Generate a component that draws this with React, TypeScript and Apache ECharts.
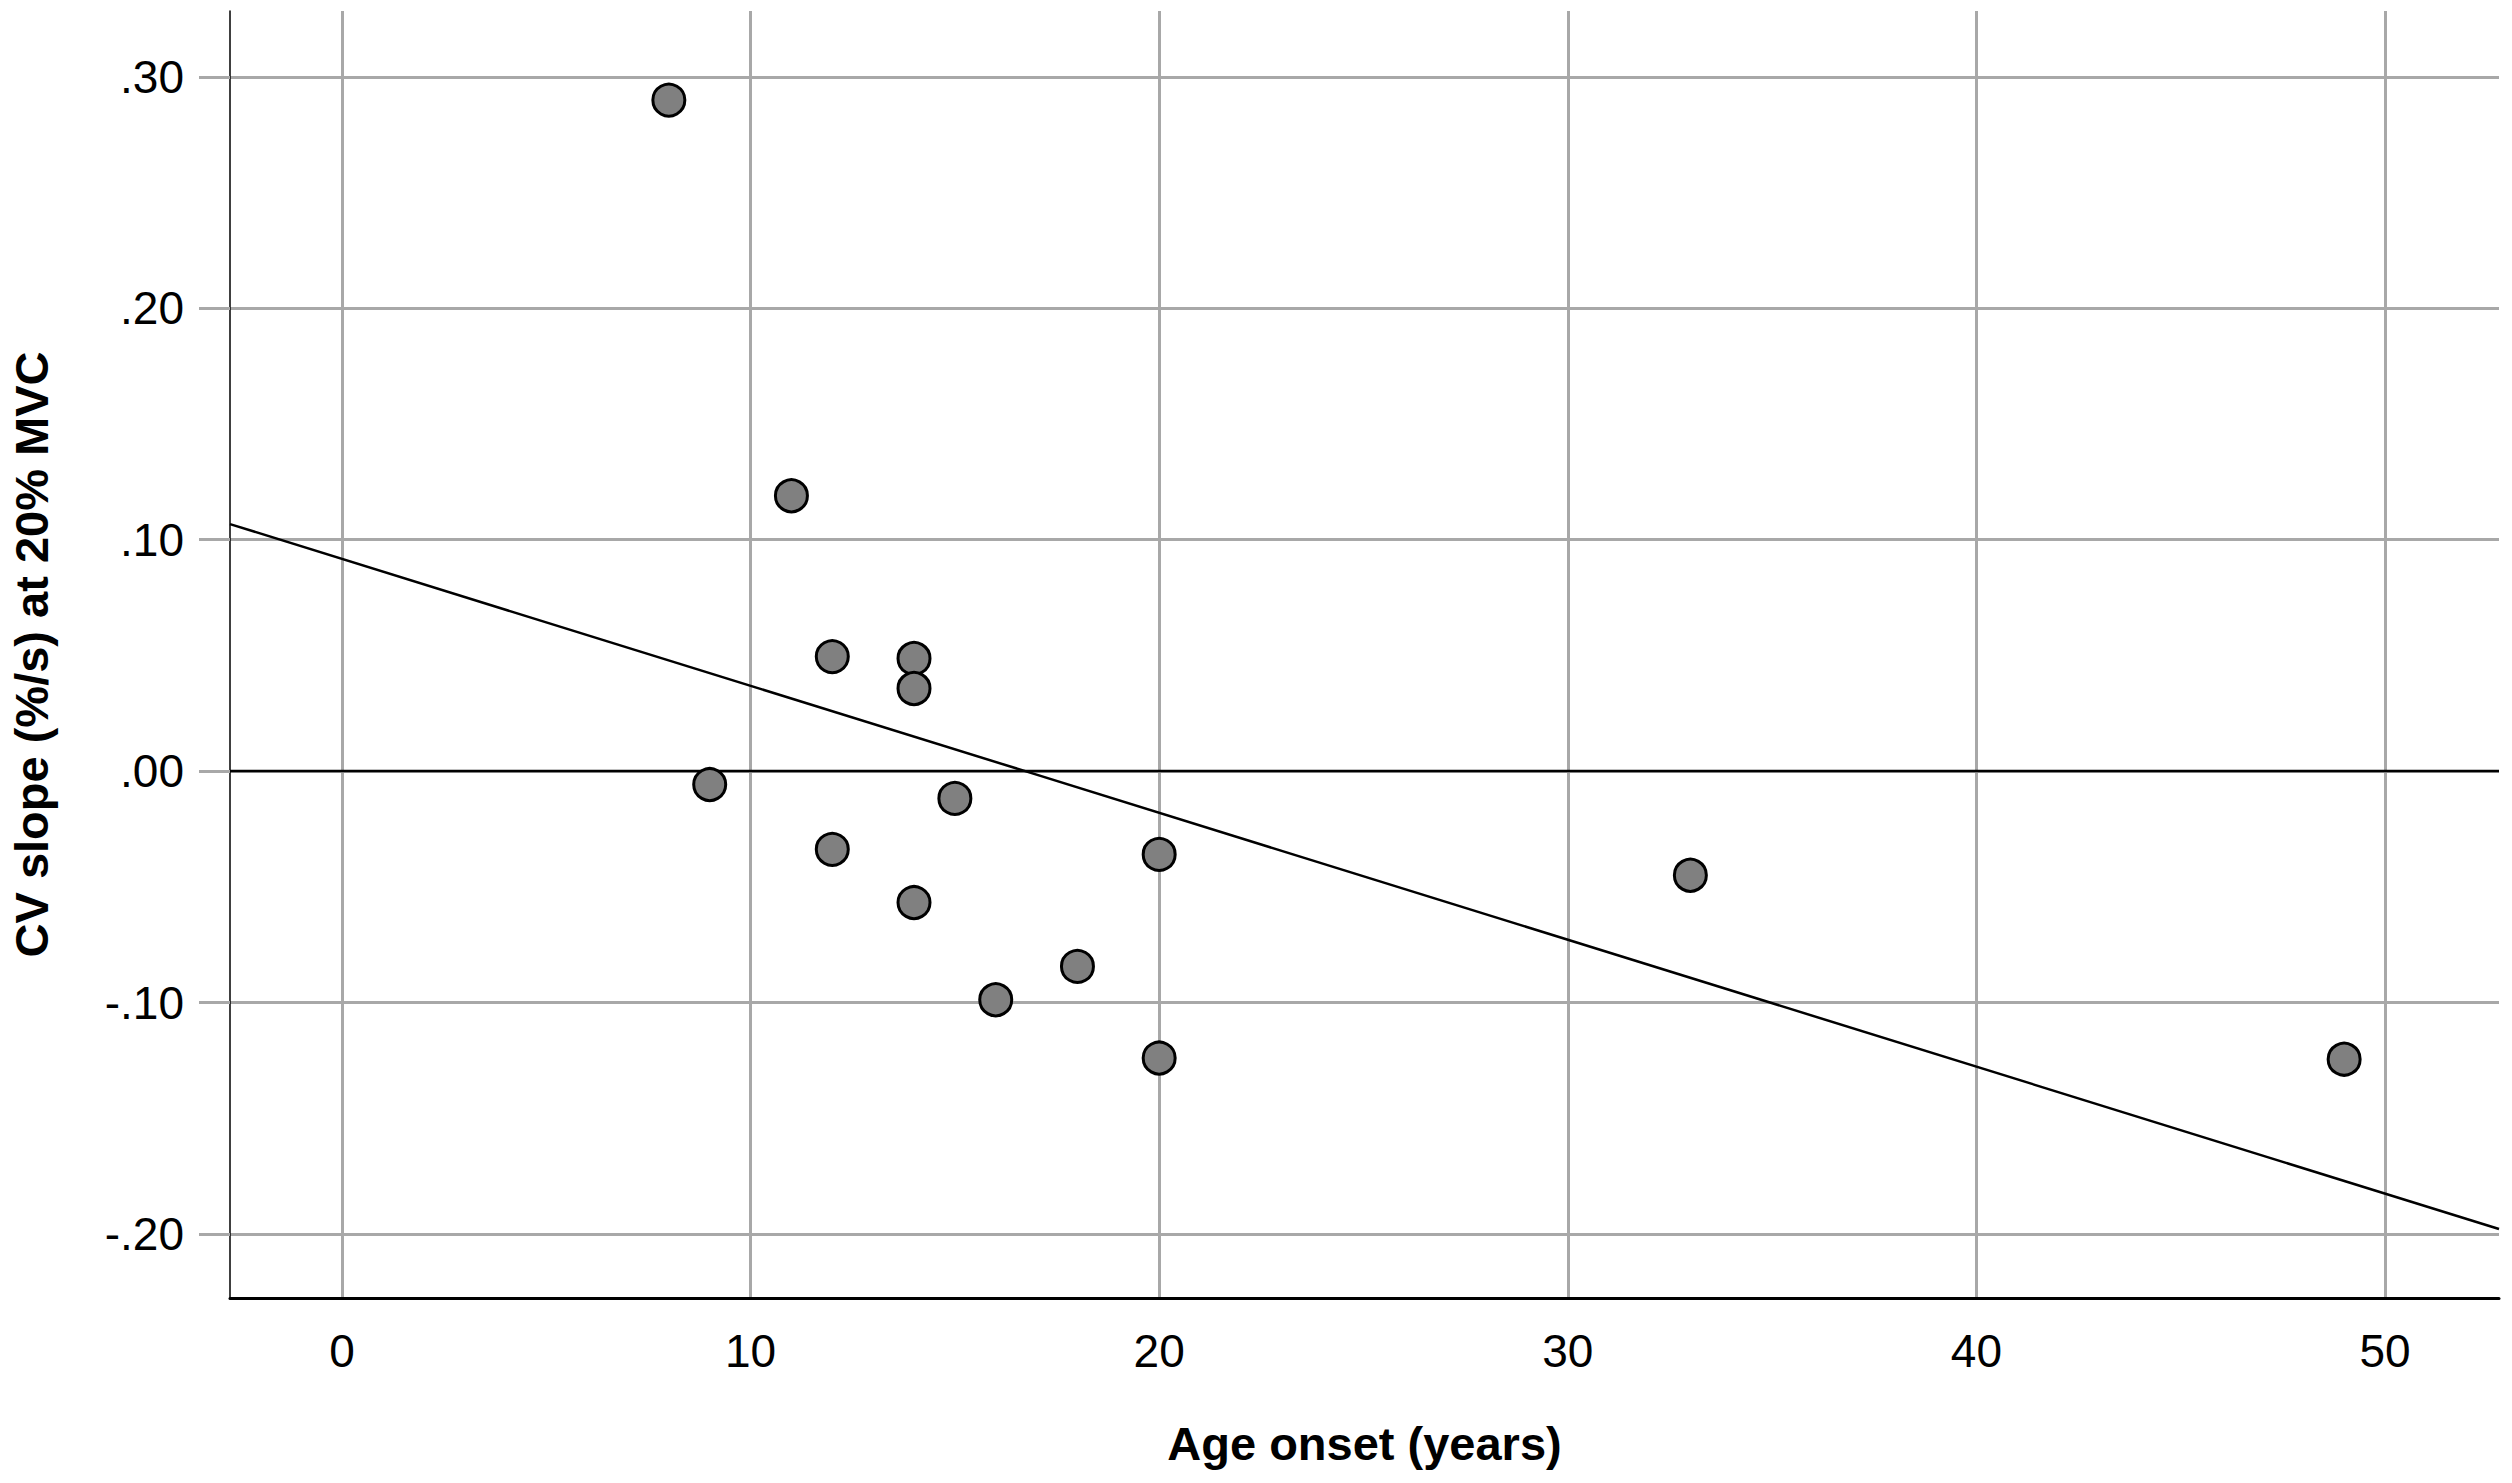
import React, { useEffect, useRef } from "react";
import * as echarts from "echarts";

const ageOnset = [8, 11, 12, 14, 14, 9, 15, 12, 14, 20, 18, 16, 20, 33, 49];
const cvSlope = [0.29, 0.119, 0.0495, 0.0487, 0.0357, -0.0058, -0.0118, -0.0338, -0.0568, -0.036, -0.0844, -0.0988, -0.124, -0.045, -0.1245];
const xTickLabels = ["0", "10", "20", "30", "40", "50"];
const yTickLabels = ["-.20", "-.10", ".00", ".10", ".20", ".30"];

const X_MIN = -2.74;
const X_MAX = 52.79;
const Y_MIN = -0.2277;
const Y_MAX = 0.3285;

const FONT = "'Liberation Sans', Arial, sans-serif";

function fitLine(xs: number[], ys: number[]) {
  const n = xs.length;
  const mx = xs.reduce((a, b) => a + b, 0) / n;
  const my = ys.reduce((a, b) => a + b, 0) / n;
  let sxy = 0;
  let sxx = 0;
  for (let i = 0; i < n; i++) {
    sxy += (xs[i] - mx) * (ys[i] - my);
    sxx += (xs[i] - mx) * (xs[i] - mx);
  }
  const b = sxy / sxx;
  const a = my - b * mx;
  return { a, b };
}

export default function App() {
  const ref = useRef<HTMLDivElement>(null);
  useEffect(() => {
    if (!ref.current) return;
    const chart = echarts.init(ref.current, null, { renderer: "svg" });
    const { a, b } = fitLine(ageOnset, cvSlope);
    const points = ageOnset.map((x, i) => [x, cvSlope[i]]);
    const fmtY = (v: number) => {
      const s = v.toFixed(2).replace(/^(-?)0\./, "$1.");
      return yTickLabels.includes(s) ? s : "";
    };
    const fmtX = (v: number) => {
      const s = String(Math.round(v));
      return xTickLabels.includes(s) && Math.abs(v - Math.round(v)) < 1e-6 ? s : "";
    };
    const gridColor = "#a8a8a8";
    chart.setOption({
      animation: false,
      backgroundColor: "#ffffff",
      grid: { left: 229, right: 13, top: 11, bottom: 185, containLabel: false },
      xAxis: {
        type: "value",
        min: X_MIN,
        max: X_MAX,
        name: "Age onset (years)",
        nameLocation: "middle",
        nameGap: 122,
        nameTextStyle: { fontFamily: FONT, fontSize: 47, fontWeight: "bold", color: "#000" },
        axisLine: { show: true, onZero: false, lineStyle: { color: "#000", width: 3 } },
        axisTick: { show: false },
        axisLabel: {
          fontFamily: FONT,
          fontSize: 46,
          color: "#000",
          margin: 30,
          showMinLabel: false,
          showMaxLabel: false,
          formatter: fmtX,
        },
        splitLine: {
          show: true,
          showMinLine: false,
          showMaxLine: false,
          lineStyle: { color: gridColor, width: 3 },
        },
      },
      yAxis: {
        type: "value",
        min: Y_MIN,
        max: Y_MAX,
        name: "CV slope (%/s) at 20% MVC",
        nameLocation: "middle",
        nameGap: 175,
        nameTextStyle: { fontFamily: FONT, fontSize: 47, fontWeight: "bold", color: "#000" },
        axisLine: { show: true, onZero: false, lineStyle: { color: "#000", width: 1.5 } },
        axisTick: {
          show: true,
          length: 31,
          lineStyle: { color: gridColor, width: 3 },
        },
        axisLabel: {
          fontFamily: FONT,
          fontSize: 46,
          color: "#000",
          margin: 46,
          showMinLabel: false,
          showMaxLabel: false,
          formatter: fmtY,
        },
        splitLine: {
          show: true,
          showMinLine: false,
          showMaxLine: false,
          lineStyle: { color: gridColor, width: 3 },
        },
      },
      series: [
        {
          type: "line",
          data: [
            [X_MIN, 0],
            [X_MAX, 0],
          ],
          showSymbol: false,
          symbol: "none",
          lineStyle: { color: "#000", width: 2.5 },
          z: 3,
          silent: true,
        },
        {
          type: "line",
          data: [
            [X_MIN, a + b * X_MIN],
            [X_MAX, a + b * X_MAX],
          ],
          showSymbol: false,
          symbol: "none",
          lineStyle: { color: "#000", width: 2.5 },
          z: 3,
          silent: true,
          clip: true,
        },
        {
          type: "scatter",
          data: points,
          symbol: "circle",
          symbolSize: 32,
          itemStyle: { color: "#808080", borderColor: "#000", borderWidth: 3, opacity: 1 },
          z: 5,
        },
      ],
    });
    return () => chart.dispose();
  }, []);
  return (
    <div
      ref={ref}
      style={{ position: "absolute", left: 0, top: 0, width: 2512, height: 1483, background: "#fff" }}
    />
  );
}
